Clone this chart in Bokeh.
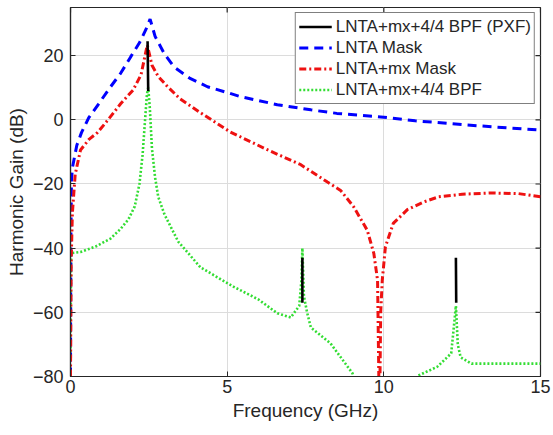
import numpy as np
from bokeh.plotting import figure
from bokeh.models import Range1d, FixedTicker, Legend, LegendItem
from bokeh.embed import file_html
from bokeh.resources import INLINE

# ---------------- data ----------------
freq_ticks = [0, 5, 10, 15]
gain_ticks = [-80, -60, -40, -20, 0, 20]

# LNTA Mask (blue dashed)
lnta_mask_f = [0, 0.01, 0.03, 0.06, 0.1, 0.2, 0.35, 0.58, 0.9, 1.28, 1.6, 1.92, 2.2, 2.4,
               2.54, 2.7, 3.0, 3.3, 3.8, 4.37, 5.0, 5.43, 6.0, 6.6, 7.67, 8.5, 9.9, 11.0,
               12.5, 13.5, 15.0]
lnta_mask_g = [-80, -40, -19, -15, -13, -8, -4, 0.6, 5, 10.3, 14.5, 19.6, 24, 28,
               31.4, 26, 20.5, 16.5, 13, 10.3, 8.5, 7.2, 6, 4.7, 3.1, 2, 0.9, -0.3,
               -1.5, -2.2, -3.2]

# LNTA+mx Mask (red dash-dot)
mx_mask_f = [0, 0.02, 0.06, 0.15, 0.32, 0.6, 0.86, 1.2, 1.6, 2.0, 2.25, 2.45, 2.6, 2.8,
             3.1, 3.5, 4.15, 5.1, 6.3, 7.35, 8.2, 8.62, 9.03, 9.47, 9.68, 9.8, 9.86,
             9.9, 9.95, 10.05, 10.3, 10.75, 11.27, 11.75, 12.5, 13.4, 14.3, 15.0]
mx_mask_g = [-80, -45, -29, -17, -9.4, -6, -4, 0, 5, 9.3, 14, 23.3, 17, 13.5,
             10.3, 6.5, 2.2, -3.8, -9.4, -14, -19.4, -22, -27, -34.4, -41.6, -50, -95,
             -60, -50, -39.6, -32.3, -28, -25.6, -24, -23.2, -22.8, -23, -24]

# LNTA+mx+4/4 BPF (green dotted)
bpf_f = [0, 0.02, 0.05, 0.32, 0.8, 1.28, 1.6, 1.85, 2.05, 2.2, 2.3, 2.38, 2.44, 2.48,
         2.53, 2.6, 2.7, 2.8, 3.0, 3.44, 4.15, 5.2, 6.0, 6.6, 7.03, 7.3, 7.37, 7.4,
         7.45, 7.55, 7.67, 8.3, 9.0, 9.3, 11.0, 11.1, 11.7, 12.15, 12.26, 12.3, 12.36,
         12.45, 12.8, 15.0]
bpf_g = [-75, -42, -41.5, -41.2, -39.5, -37, -34, -31, -27, -20, -11, 0, 8, 10,
         4, -9, -18, -24, -29.5, -38, -46, -52, -56, -60.3, -61.6, -58, -50, -40,
         -55, -60, -64.7, -69.7, -79, -90, -90, -79.7, -77, -72.8, -62, -58, -70,
         -74, -76, -76]

# LNTA+mx+4/4 BPF (PXF) (black, only at the harmonics)
pxf_f = [2.46, 2.48, np.nan, 7.4, 7.4, np.nan, 12.3, 12.31]
pxf_g = [24.5, 9.0, np.nan, -43, -57, np.nan, -43, -57]

legend_labels = ["LNTA+mx+4/4 BPF (PXF)", "LNTA Mask", "LNTA+mx Mask", "LNTA+mx+4/4 BPF"]

# ---------------- figure ----------------
FONT = "Liberation Sans"
DARK = "#262626"
X0, X1, Y0, Y1 = 0, 15, -80, 35
W, H = 553, 435
BL, BR, BT, BB = 70, 13, 7, 59
FW, FH = W - BL - BR, H - BT - BB
TICK = 5  # px, inward ticks

p = figure(width=W, height=H, output_backend="svg", toolbar_location=None,
           x_range=Range1d(X0, X1), y_range=Range1d(Y0, Y1),
           min_border_left=BL, min_border_right=BR, min_border_top=BT,
           min_border_bottom=BB, background_fill_color="white",
           border_fill_color="white")
p.outline_line_color = DARK
p.outline_line_width = 1.2

for ax in (p.xaxis[0], p.yaxis[0]):
    ax.major_tick_in = TICK
    ax.major_tick_out = 0
    ax.minor_tick_line_color = None
    ax.axis_line_color = DARK
    ax.axis_line_width = 1.2
    ax.major_tick_line_color = DARK
    ax.major_label_text_font = FONT
    ax.major_label_text_font_size = "18px"
    ax.major_label_text_color = DARK
    ax.axis_label_text_font = FONT
    ax.axis_label_text_font_size = "19px"
    ax.axis_label_text_font_style = "normal"
    ax.axis_label_text_color = DARK

p.xaxis[0].ticker = FixedTicker(ticks=freq_ticks)
p.yaxis[0].ticker = FixedTicker(ticks=gain_ticks)
p.xaxis[0].axis_label = "Frequency (GHz)"
p.yaxis[0].axis_label = "Harmonic Gain (dB)"
p.xaxis[0].major_label_standoff = 3
p.yaxis[0].major_label_standoff = 7
p.xaxis[0].axis_label_standoff = 4
p.yaxis[0].axis_label_standoff = 3

p.xgrid.grid_line_color = "#dcdcdc"
p.ygrid.grid_line_color = "#dcdcdc"
p.xgrid.grid_line_width = 1
p.ygrid.grid_line_width = 1

r_green = p.line(bpf_f, bpf_g, line_color="#33dd33", line_width=2.6, line_dash="2 2")
r_blue = p.line(lnta_mask_f, lnta_mask_g, line_color="#0000ff", line_width=3, line_dash="9 6")
r_red = p.line(mx_mask_f, mx_mask_g, line_color="#ee1111", line_width=3, line_dash="7 3 2 3")
r_black = p.line(pxf_f, pxf_g, line_color="black", line_width=2.6)

# inward box ticks on the top and right edges (derived from the tick lists)
dy = TICK * (Y1 - Y0) / FH
dx = TICK * (X1 - X0) / FW
p.segment(x0=freq_ticks, y0=[Y1] * len(freq_ticks), x1=freq_ticks,
          y1=[Y1 - dy] * len(freq_ticks), line_color=DARK, line_width=1.2)
p.segment(x0=[X1] * len(gain_ticks), y0=gain_ticks, x1=[X1 - dx] * len(gain_ticks),
          y1=gain_ticks, line_color=DARK, line_width=1.2)

legend = Legend(items=[
    LegendItem(label=legend_labels[0], renderers=[r_black]),
    LegendItem(label=legend_labels[1], renderers=[r_blue]),
    LegendItem(label=legend_labels[2], renderers=[r_red]),
    LegendItem(label=legend_labels[3], renderers=[r_green]),
], location="top_right")
legend.label_text_font = FONT
legend.label_text_font_size = "17px"
legend.label_text_color = DARK
legend.border_line_color = "black"
legend.border_line_width = 1.5
legend.background_fill_color = "white"
legend.background_fill_alpha = 1
legend.glyph_width = 33
legend.glyph_height = 21
legend.label_height = 21
legend.label_standoff = 4
legend.spacing = 0
legend.padding = 3
legend.margin = 5
p.add_layout(legend)

open("out.html", "w").write(file_html(p, INLINE))
